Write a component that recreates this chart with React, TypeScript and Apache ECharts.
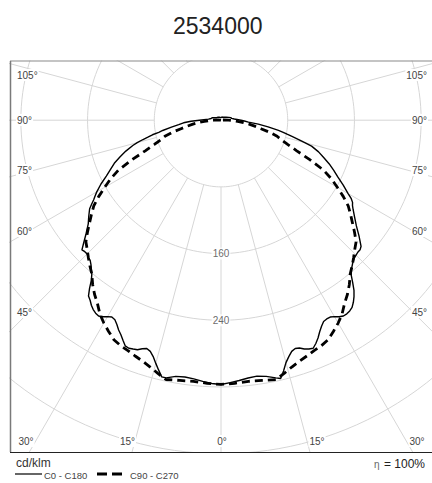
import React, { useEffect, useRef } from "react";
import * as echarts from "echarts";

const TITLE = "2534000";
const UNIT = "cd/klm";
const ETA_SYMBOL = "η";
const ETA_VALUE = "= 100%";
const SERIES_NAMES = ["C0 - C180", "C90 - C270"];

const RING_VALUES = [80, 160, 240, 320, 400, 480];
const RING_LABELS = [160, 240];
const SPOKE_ANGLES = [-180, -165, -150, -135, -120, -105, -90, -75, -60, -45, -30, -15, 0, 15, 30, 45, 60, 75, 90, 105, 120, 135, 150, 165, 180];
const SIDE_ANGLE_LABELS = ["105°", "90°", "75°", "60°", "45°"];
const BOTTOM_ANGLE_LABELS = ["30°", "15°", "0°", "15°", "30°"];

// gamma angles (deg) for the C0 / C180 half planes
const GAMMA_C = [0, 2, 4, 6, 8, 10, 12, 13, 14, 15, 16, 17, 18, 19, 20, 21, 22, 23, 24, 25, 26, 27, 28, 29, 30, 31, 32, 33, 34, 35, 36, 37, 38, 39, 40, 41, 42, 43, 44, 45, 46, 47, 48, 50, 52, 54, 56, 57, 58, 59, 60, 62, 64, 66, 68, 70, 72, 74, 75, 76, 77, 78, 79, 80, 82, 84, 86, 88, 90, 95, 100, 105, 110, 120, 135, 150, 165, 180];
const VALUES_C0 = [317, 315, 313, 311, 310, 312, 316, 318, 310, 301, 295, 290, 288, 289, 292, 294, 295, 291, 286, 280, 275, 271, 270, 270, 272, 275, 277, 277, 276, 274, 270, 265, 259, 251, 243, 238, 235, 232, 230, 229, 228, 228, 226, 216, 206, 198, 191, 188, 186, 182, 176, 166, 156, 148, 140, 131, 123, 113, 104, 96, 88, 81, 76, 70, 57, 45, 33, 28, 24, 16, 13, 12, 10, 7, 5, 4, 4, 3];
const VALUES_C180 = [317, 316, 314, 312, 311, 312, 316, 316, 309, 302, 295, 290, 288, 290, 293, 294, 295, 294, 289, 284, 280, 275, 271, 270, 272, 275, 277, 276, 274, 271, 267, 264, 256, 247, 241, 237, 233, 230, 229, 227, 227, 228, 222, 211, 202, 196, 190, 185, 180, 176, 172, 163, 153, 145, 138, 129, 120, 110, 104, 97, 90, 84, 76, 71, 60, 51, 45, 36, 26, 15, 12, 11, 9, 6, 5, 4, 3, 3];

// gamma angles (deg) for the C90 / C270 half planes (symmetric)
const GAMMA_C90 = [0, 3, 6, 9, 12, 14, 16, 18, 20, 22, 24, 26, 28, 30, 32, 34, 36, 38, 40, 42, 44, 46, 48, 50, 52, 54, 56, 58, 60, 62, 64, 66, 68, 70, 72, 74, 76, 78, 80, 82, 84, 86, 88, 90, 95, 100, 180];
const VALUES_C90 = [317, 316, 315, 316, 318, 313, 308, 304, 301, 298, 296, 293, 287, 281, 274, 265, 258, 250, 241, 235, 229, 223, 218, 209, 200, 192, 184, 173, 161, 150, 137, 117, 98, 85, 76, 70, 60, 49, 41, 34, 27, 20, 14, 9, 3, 1, 0];

const X_MIN = -253;
const X_MAX = 253;
const Y_MIN = -398;
const Y_MAX = 71;

const FONT = "'Liberation Sans', Arial, sans-serif";
const GRID_COLOR = "#d6d6d6";

const rad = (d: number) => (d * Math.PI) / 180;
// gamma measured from nadir (downwards); side = +1 right, -1 left
const toXY = (gamma: number, value: number, side: number) => [
  side * value * Math.sin(rad(gamma)),
  -value * Math.cos(rad(gamma)),
];

const halfCurve = (gammas: number[], values: number[], side: number) =>
  gammas.map((g, i) => toXY(g, values[i], side));

export default function App() {
  const ref = useRef<HTMLDivElement>(null);

  useEffect(() => {
    if (!ref.current) return;
    const chart = echarts.init(ref.current, undefined, { renderer: "svg" });

    const solid = [
      ...halfCurve(GAMMA_C, VALUES_C180, -1).reverse(),
      ...halfCurve(GAMMA_C, VALUES_C0, 1),
    ];
    const dashed = [
      ...halfCurve(GAMMA_C90, VALUES_C90, -1).reverse(),
      ...halfCurve(GAMMA_C90, VALUES_C90, 1),
    ];

    const ringSeries = RING_VALUES.map((v) => {
      const pts: number[][] = [];
      for (let a = 0; a <= 360; a += 2) pts.push([v * Math.sin(rad(a)), v * Math.cos(rad(a))]);
      return {
        type: "line",
        data: pts,
        symbol: "none",
        silent: true,
        z: 1,
        lineStyle: { color: GRID_COLOR, width: 1 },
      };
    });

    const spokeSeries = SPOKE_ANGLES.map((a) => ({
      type: "line",
      data: [toXY(Math.abs(a), RING_VALUES[0], Math.sign(a) || 1), toXY(Math.abs(a), 800, Math.sign(a) || 1)],
      symbol: "none",
      silent: true,
      z: 1,
      lineStyle: { color: GRID_COLOR, width: 1 },
    }));

    const labelStyle = {
      font: `10px ${FONT}`,
      fill: "#444",
      backgroundColor: "#fff",
      padding: [1, 1],
      verticalAlign: "middle",
    };
    const sideY = [75, 120, 170, 231, 312];
    const bottomX = [26, 127.5, 222, 317, 417];

    const graphics: any[] = [];
    SIDE_ANGLE_LABELS.forEach((t, i) => {
      graphics.push({ type: "text", z: 100, style: { ...labelStyle, text: t, x: 16, y: sideY[i], align: "left" } });
      graphics.push({ type: "text", z: 100, style: { ...labelStyle, text: t, x: 428, y: sideY[i], align: "right" } });
    });
    BOTTOM_ANGLE_LABELS.forEach((t, i) => {
      graphics.push({ type: "text", z: 100, style: { ...labelStyle, text: t, x: bottomX[i], y: 441, align: "center" } });
    });
    // frame
    graphics.push({ type: "line", z: 101, shape: { x1: 10, y1: 61, x2: 432, y2: 61 }, style: { stroke: "#8a8a8a", lineWidth: 1.2 } });
    graphics.push({ type: "line", z: 101, shape: { x1: 10.5, y1: 61, x2: 10.5, y2: 452 }, style: { stroke: "#7a7a7a", lineWidth: 1.5 } });
    graphics.push({ type: "line", z: 101, shape: { x1: 10, y1: 452.5, x2: 432, y2: 452.5 }, style: { stroke: "#222", lineWidth: 1.2 } });
    // legend
    graphics.push({ type: "text", z: 100, style: { text: UNIT, x: 16, y: 463, font: `12px ${FONT}`, fill: "#333", verticalAlign: "middle" } });
    graphics.push({ type: "line", z: 100, shape: { x1: 15, y1: 474, x2: 42, y2: 474 }, style: { stroke: "#000", lineWidth: 1.2 } });
    graphics.push({ type: "text", z: 100, style: { text: SERIES_NAMES[0], x: 44, y: 475, font: `9.5px ${FONT}`, fill: "#444", verticalAlign: "middle" } });
    graphics.push({ type: "line", z: 100, shape: { x1: 97, y1: 474, x2: 122, y2: 474 }, style: { stroke: "#000", lineWidth: 3, lineDash: [10, 5] } });
    graphics.push({ type: "text", z: 100, style: { text: SERIES_NAMES[1], x: 130, y: 475, font: `9.5px ${FONT}`, fill: "#444", verticalAlign: "middle" } });
    graphics.push({ type: "text", z: 100, style: { text: ETA_SYMBOL, x: 374, y: 464, font: `10px ${FONT}`, fill: "#666", verticalAlign: "middle" } });
    graphics.push({ type: "text", z: 100, style: { text: ETA_VALUE, x: 425, y: 464, font: `12px ${FONT}`, fill: "#222", align: "right", verticalAlign: "middle" } });

    chart.setOption({
      animation: false,
      backgroundColor: "#fff",
      title: {
        text: TITLE,
        left: 173,
        top: 14,
        padding: 0,
        textStyle: { fontFamily: FONT, fontSize: 23, fontWeight: "normal", color: "#222" },
      },
      grid: { left: 10, right: 0, top: 61, bottom: 31, show: false },
      xAxis: { type: "value", min: X_MIN, max: X_MAX, show: false },
      yAxis: { type: "value", min: Y_MIN, max: Y_MAX, show: false },
      series: [
        ...ringSeries,
        ...spokeSeries,
        {
          type: "scatter",
          data: RING_LABELS.map((v) => [0, -v]),
          symbolSize: 0,
          silent: true,
          z: 5,
          label: {
            show: true,
            position: "inside",
            formatter: (p: any) => String(-p.value[1]),
            fontFamily: FONT,
            fontSize: 10,
            color: "#444",
            backgroundColor: "#fff",
            padding: [1, 1],
          },
        },
        {
          name: SERIES_NAMES[1],
          type: "line",
          data: dashed,
          symbol: "none",
          silent: true,
          z: 6,
          lineStyle: { color: "#000", width: 2.8, type: [8, 5] },
        },
        {
          name: SERIES_NAMES[0],
          type: "line",
          data: solid,
          symbol: "none",
          silent: true,
          z: 7,
          lineStyle: { color: "#000", width: 1.4 },
        },
      ],
      graphic: graphics,
    });

    return () => chart.dispose();
  }, []);

  return <div ref={ref} style={{ position: "fixed", left: 0, top: 0, width: 432, height: 483 }} />;
}
